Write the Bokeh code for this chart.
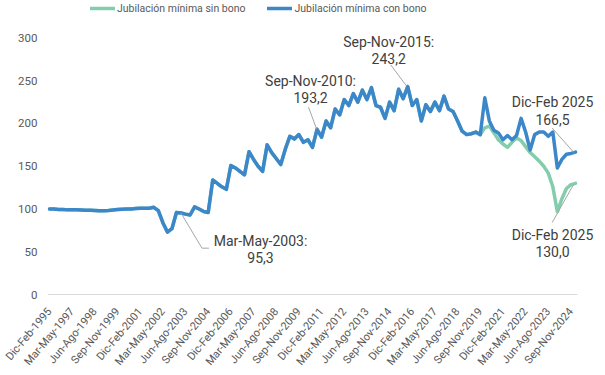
import math
from bokeh.plotting import figure
from bokeh.models import Range1d, FixedTicker, Legend, LegendItem
from bokeh.core.properties import value
from bokeh.embed import file_html
from bokeh.resources import INLINE

# ---------------- data ----------------
periodos = (["Dic-Feb-1995"] +
            [f"{q}-{y}" for y in range(1996, 2025) for q in ("Mar-May", "Jun-Ago", "Sep-Nov", "Dic-Feb")])
periodos = periodos[:116] + ["Dic-Feb-2025"]
periodos[4::4] = [f"Dic-Feb-{1997 + k}" for k in range(len(periodos[4::4]))]

con_bono = [
    100.0, 100.0, 99.5, 99.5, 99.0, 99.0, 99.0, 98.8, 98.5, 98.5,
    98.3, 98.0, 98.0, 98.3, 98.8, 99.3, 99.8, 100.0, 100.0, 100.5,
    100.8, 101.0, 101.0, 102.0, 98.0, 84.0, 73.0, 77.0, 96.0, 95.3,
    94.0, 93.0, 102.5, 100.0, 97.0, 96.0, 134.0, 130.0, 126.0, 123.0,
    151.0, 148.0, 144.0, 140.0, 167.0, 158.0, 150.0, 144.0, 175.0, 166.0,
    159.0, 152.0, 170.0, 185.0, 182.0, 187.0, 178.0, 181.0, 172.0, 193.2,
    184.0, 203.0, 195.0, 217.0, 210.0, 228.0, 221.0, 235.0, 225.0, 239.0,
    228.0, 242.0, 221.0, 219.0, 206.0, 225.0, 215.0, 240.0, 229.0, 243.2,
    221.0, 228.0, 203.0, 222.0, 214.0, 225.0, 215.0, 232.0, 217.0, 214.0,
    203.0, 191.0, 187.0, 188.0, 190.0, 187.0, 230.0, 203.0, 192.0, 189.0,
    181.0, 186.0, 181.0, 186.0, 206.0, 190.0, 169.0, 187.0, 190.0, 190.0,
    185.0, 190.0, 148.0, 158.0, 164.0, 165.0, 166.5,
]
inicio_sin_bono = 95
sin_bono_tramo = [
    187.0, 195.0, 197.0, 189.0, 181.0, 176.0, 172.0, 178.0, 183.0, 180.0,
    173.0, 166.0, 161.0, 156.0, 150.0, 142.0, 126.0, 97.0, 112.0, 124.0,
    128.5, 130.0,
]
sin_bono = con_bono[:inicio_sin_bono] + sin_bono_tramo

tick_idx = list(range(0, 116, 5))
y_ticks = [0, 50, 100, 150, 200, 250, 300]

BLUE = "#3b87c9"
GREEN = "#84cdac"
FONT = "Roboto"

# ---------------- figure ----------------
W, H = 605, 375
BL, BR, BT, BB = 47, 0, 0, 75
PXX = 4.5345          # px per period
PXY = 0.8667          # px per index point
X0 = -0.44
X1 = X0 + (W - BL - BR) / PXX
XEND = 116.44
Y0 = -2 / PXY
Y1 = Y0 + (H - BT - BB) / PXY

p = figure(width=W, height=H, x_range=Range1d(X0, X1), y_range=Range1d(Y0, Y1),
           output_backend="svg", toolbar_location=None,
           min_border_left=BL, min_border_right=BR, min_border_top=BT, min_border_bottom=BB)
p.outline_line_color = None
p.xgrid.visible = False
p.ygrid.visible = False
p.background_fill_color = "white"
p.border_fill_color = "white"

# baseline
p.line([X0, XEND], [0, 0], line_color="#d9d9d9", line_width=1)

xs = list(range(len(con_bono)))
r_sin = p.line(xs, sin_bono, line_color=GREEN, line_width=3.5, line_join="round", line_cap="round")
r_con = p.line(xs, con_bono, line_color=BLUE, line_width=3.5, line_join="round", line_cap="round")

# axes
xa = p.xaxis[0]
xa.ticker = FixedTicker(ticks=tick_idx)
xa.major_label_overrides = {i: periodos[i] for i in tick_idx}
xa.major_label_orientation = math.radians(50)
xa.major_label_text_font = FONT
xa.major_label_text_font_size = "11px"
xa.major_label_text_color = "#595959"
xa.axis_line_color = None
xa.major_tick_line_color = None
xa.minor_tick_line_color = None
xa.major_tick_in = 0
xa.major_tick_out = 0
xa.major_label_standoff = 13

ya = p.yaxis[0]
ya.ticker = FixedTicker(ticks=y_ticks)
ya.major_label_text_font = FONT
ya.major_label_text_font_size = "11.5px"
ya.major_label_text_color = "#595959"
ya.axis_line_color = None
ya.major_tick_line_color = None
ya.minor_tick_line_color = None
ya.major_tick_in = 0
ya.major_tick_out = 0
ya.major_label_standoff = 10

# annotations: (index, series, lines, text offset (px), leader path offsets (px))
anotaciones = [
    (29, con_bono, ["Mar-May-2003:", "95,3"], (79.5, 27.6), [(0, 0), (21, 35.6), (28, 35.6)]),
    (59, con_bono, ["Sep-Nov-2010:", "193,2"], (-6.5, -48.5), [(-8.5, -22.5), (-0.5, -0.5)]),
    (79, con_bono, ["Sep-Nov-2015:", "243,2"], (-19, -45), [(-17, -22), (-1.5, -1)]),
    (116, con_bono, ["Dic-Feb 2025", "166,5"], (-23, -49.7), [(-23.3, -24.4), (-1.7, 0.3)]),
    (116, sin_bono, ["Dic-Feb 2025", "130,0"], (-23, 51.4), [(-23.3, 39.7), (-1.7, 0.7)]),
]
for idx, serie, lineas, (tx, ty), path in anotaciones:
    vx, vy = idx, serie[idx]
    lx = [vx + dx / PXX for dx, dy in path]
    ly = [vy - dy / PXY for dx, dy in path]
    p.line(lx, ly, line_color="#a6a6a6", line_width=1)
    for k, t in enumerate(lineas):
        p.text(x=[vx], y=[vy], text=[t], x_offset=tx, y_offset=ty + 16.8 * k,
               text_align="center", text_baseline="middle",
               text_font=value(FONT), text_font_size="14px", text_color="#404040")

legend = Legend(items=[LegendItem(label="Jubilación mínima sin bono", renderers=[r_sin]),
                       LegendItem(label="Jubilación mínima con bono", renderers=[r_con])],
                orientation="horizontal", location=(43, 281))
legend.label_text_font = FONT
legend.label_text_font_size = "10.5px"
legend.label_text_color = "#595959"
legend.glyph_width = 25
legend.glyph_height = 14
legend.label_height = 14
legend.label_standoff = 2
legend.spacing = 22
legend.padding = 0
legend.margin = 0
legend.border_line_color = None
legend.background_fill_alpha = 0
p.add_layout(legend)

open("out.html", "w").write(file_html(p, INLINE))
